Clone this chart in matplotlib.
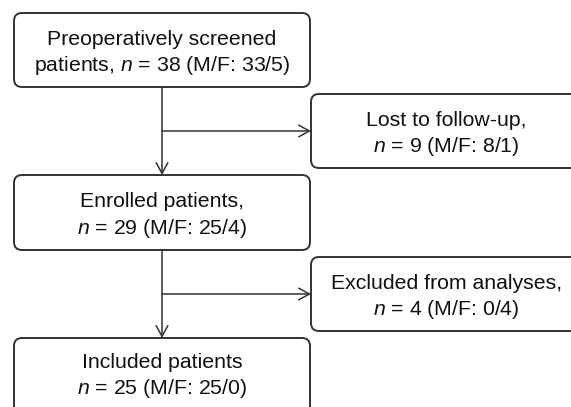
import matplotlib
matplotlib.use('Agg')
import matplotlib.pyplot as plt
from matplotlib.patches import FancyBboxPatch

plt.rcParams['font.family'] = ['Liberation Sans', 'DejaVu Sans']
plt.rcParams['mathtext.fontset'] = 'custom'
plt.rcParams['mathtext.rm'] = 'Liberation Sans'
plt.rcParams['mathtext.it'] = 'Liberation Sans:italic'

# 흐름도 상자 텍스트
main_labels = ['Preoperatively screened\npatients, $n$ = 38 (M/F: 33/5)',
               'Enrolled patients,\n$n$ = 29 (M/F: 25/4)',
               'Included patients\n$n$ = 25 (M/F: 25/0)']
side_labels = ['Lost to follow-up,\n$n$ = 9 (M/F: 8/1)',
               'Excluded from analyses,\n$n$ = 4 (M/F: 0/4)']

# 상자 위치 (픽셀, x0, y0, x1, y1)
main_boxes = [(14, 13, 310, 87), (14, 175, 310, 250), (14, 338, 310, 408)]
side_boxes = [(311, 94, 582, 168), (311, 257, 582, 331)]

line_col = '#333333'

fig = plt.figure(figsize=(5.71, 4.07), dpi=100)
ax = fig.add_axes([0, 0, 1, 1])
ax.set_xlim(0, 571)
ax.set_ylim(407, 0)
ax.axis('off')


def draw_box(b, text, extra=0):
    # extra -> 그림 밖으로 잘려나가는 상자 아래쪽 길이
    x0, y0, x1, y1 = b
    p = FancyBboxPatch((x0 + 8, y0 + 8), x1 - x0 - 16, y1 - y0 - 16 + extra,
                       boxstyle='round,pad=8', fc='white', ec=line_col, lw=1.4)
    ax.add_patch(p)
    ax.text((x0 + x1) / 2, (y0 + y1) / 2 + 3.5, text, ha='center', va='center',
            fontsize=15.3, linespacing=1.34, color='#111111')


for i, (b, t) in enumerate(zip(main_boxes, main_labels)):
    draw_box(b, t, extra=10 if i == len(main_boxes) - 1 else 0)
for b, t in zip(side_boxes, side_labels):
    draw_box(b, t)

cx = (main_boxes[0][0] + main_boxes[0][2]) / 2
arrow = dict(arrowstyle='->,head_length=0.55,head_width=0.3', color=line_col,
             lw=1.1, mutation_scale=14, shrinkA=0, shrinkB=0)
for i in range(2):
    ax.annotate('', xy=(cx, main_boxes[i + 1][1]), xytext=(cx, main_boxes[i][3]),
                arrowprops=arrow)
    sy = (side_boxes[i][1] + side_boxes[i][3]) / 2
    ax.annotate('', xy=(side_boxes[i][0], sy), xytext=(cx, sy), arrowprops=arrow)

fig.savefig('out.png', dpi=100)
